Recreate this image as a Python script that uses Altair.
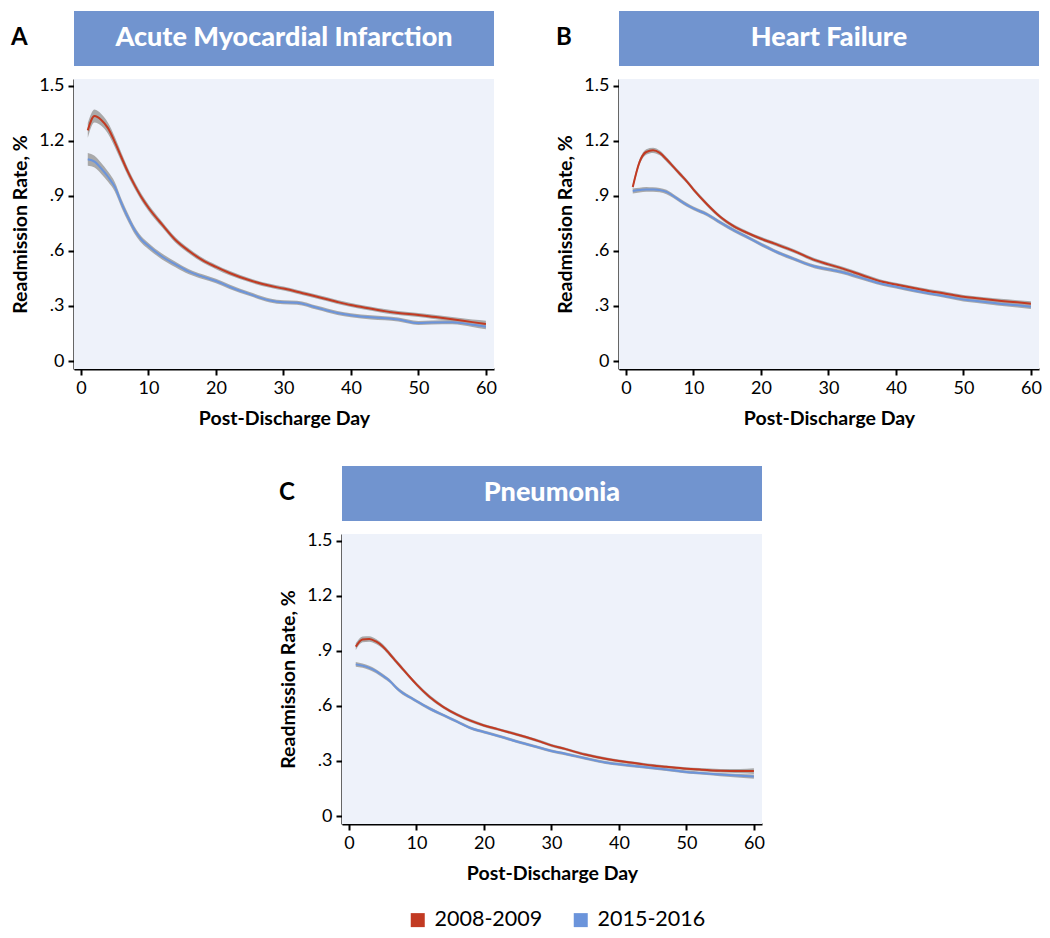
import altair as alt
import pandas as pd

days = [1, 2, 3, 4, 5, 6, 7, 8, 9, 10, 12, 14, 16, 18, 20, 22, 25, 28, 30,
        32, 35, 38, 40, 43, 45, 47, 50, 52, 55, 58, 60]

periods = ["2008-2009", "2015-2016"]

ami_0809 = [1.258, 1.336, 1.315, 1.27, 1.195, 1.11, 1.027, 0.955, 0.89, 0.836,
            0.745, 0.66, 0.60, 0.55, 0.513, 0.48, 0.44, 0.41, 0.395,
            0.378, 0.35, 0.322, 0.305, 0.285, 0.272, 0.262, 0.251, 0.242, 0.228, 0.212, 0.202]
ami_1516 = [1.10, 1.087, 1.05, 1.005, 0.95, 0.86, 0.78, 0.71, 0.66, 0.627,
            0.57, 0.527, 0.487, 0.46, 0.436, 0.405, 0.365, 0.33, 0.32,
            0.318, 0.29, 0.262, 0.25, 0.238, 0.233, 0.226, 0.207, 0.21, 0.211, 0.198, 0.187]
hf_0809 = [0.949, 1.085, 1.14, 1.149, 1.135, 1.10, 1.06, 1.02, 0.98, 0.935,
           0.855, 0.785, 0.734, 0.698, 0.667, 0.64, 0.598, 0.55, 0.527,
           0.505, 0.468, 0.432, 0.417, 0.395, 0.381, 0.37, 0.35, 0.342, 0.33, 0.32, 0.312]
hf_1516 = [0.927, 0.932, 0.936, 0.935, 0.932, 0.922, 0.90, 0.875, 0.852, 0.832,
           0.80, 0.755, 0.712, 0.675, 0.636, 0.60, 0.555, 0.515, 0.50,
           0.485, 0.452, 0.42, 0.405, 0.382, 0.368, 0.356, 0.335, 0.327, 0.314, 0.304, 0.296]
pn_0809 = [0.924, 0.963, 0.966, 0.952, 0.925, 0.885, 0.842, 0.80, 0.758, 0.718,
           0.648, 0.594, 0.553, 0.52, 0.494, 0.474, 0.443, 0.41, 0.385,
           0.366, 0.335, 0.312, 0.300, 0.285, 0.275, 0.268, 0.258, 0.253, 0.247, 0.245, 0.245]
pn_1516 = [0.827, 0.82, 0.808, 0.79, 0.765, 0.738, 0.70, 0.67, 0.648, 0.627,
           0.585, 0.55, 0.515, 0.48, 0.458, 0.438, 0.405, 0.375, 0.355,
           0.34, 0.315, 0.292, 0.282, 0.27, 0.262, 0.254, 0.24, 0.234, 0.226, 0.219, 0.215]

# 95% CI half-widths
ami_0809_ci = [0.04, 0.035, 0.032, 0.03, 0.028, 0.025, 0.022, 0.02, 0.019, 0.018,
               0.016, 0.015, 0.014, 0.013, 0.012, 0.012, 0.011, 0.011, 0.011,
               0.011, 0.011, 0.011, 0.011, 0.011, 0.011, 0.011, 0.011, 0.011, 0.012, 0.014, 0.018]
ami_1516_ci = [0.035, 0.032, 0.03, 0.028, 0.026, 0.024, 0.022, 0.02, 0.018, 0.017,
               0.016, 0.015, 0.014, 0.013, 0.012, 0.012, 0.011, 0.011, 0.011,
               0.011, 0.011, 0.011, 0.011, 0.011, 0.011, 0.011, 0.011, 0.011, 0.011, 0.012, 0.014]
hf_0809_ci = [0.016, 0.015, 0.015, 0.014, 0.013, 0.013, 0.012, 0.012, 0.011, 0.011,
              0.011, 0.01, 0.01, 0.01, 0.01, 0.01, 0.01, 0.01, 0.01,
              0.01, 0.01, 0.01, 0.01, 0.01, 0.01, 0.01, 0.01, 0.01, 0.011, 0.012, 0.014]
hf_1516_ci = [0.014, 0.013, 0.013, 0.012, 0.012, 0.012, 0.011, 0.011, 0.011, 0.01,
              0.01, 0.01, 0.01, 0.01, 0.01, 0.01, 0.01, 0.01, 0.01,
              0.01, 0.01, 0.01, 0.01, 0.01, 0.01, 0.01, 0.01, 0.01, 0.011, 0.012, 0.013]
pn_0809_ci = [0.018, 0.016, 0.015, 0.014, 0.013, 0.012, 0.011, 0.011, 0.01, 0.01,
              0.01, 0.009, 0.009, 0.009, 0.008, 0.008, 0.008, 0.008, 0.008,
              0.008, 0.008, 0.008, 0.008, 0.008, 0.008, 0.008, 0.008, 0.009, 0.01, 0.012, 0.016]
pn_1516_ci = [0.013, 0.012, 0.012, 0.011, 0.011, 0.01, 0.01, 0.01, 0.009, 0.009,
              0.009, 0.008, 0.008, 0.008, 0.008, 0.008, 0.008, 0.008, 0.008,
              0.008, 0.008, 0.008, 0.008, 0.008, 0.008, 0.008, 0.008, 0.008, 0.009, 0.01, 0.012]

y_ticks = [0, 0.3, 0.6, 0.9, 1.2, 1.5]
y_tick_labels = ["0", ".3", ".6", ".9", "1.2", "1.5"]
x_ticks = [0, 10, 20, 30, 40, 50, 60]

RED = "#c23a22"
BLUE = "#6b94db"
BANNER = "#7194cf"
BG = "#eef2fa"
FONT = "Lato"

W, H = 420, 290


def make_df(a, b, a_ci, b_ci):
    rows = []
    for p, vals, ci in [(periods[0], a, a_ci), (periods[1], b, b_ci)]:
        for d, v, c in zip(days, vals, ci):
            rows.append({"day": d, "rate": v, "lo": v - c, "hi": v + c, "period": p})
    return pd.DataFrame(rows)


label_expr = " : ".join(
    f"datum.value == {v} ? '{t}'" for v, t in zip(y_ticks[:-1], y_tick_labels[:-1])
) + f" : '{y_tick_labels[-1]}'"


def panel(letter, title, df, show_legend):
    x = alt.X("day:Q", scale=alt.Scale(domain=[-1.04, 61.2], nice=False, zero=False),
              axis=alt.Axis(values=x_ticks, title="Post-Discharge Day"))
    y_axis = alt.Axis(values=y_ticks, labelExpr=label_expr, title="Readmission Rate, %")
    y_scale = alt.Scale(domain=[-0.0436, 1.538], nice=False, zero=False)
    if show_legend:
        legend = alt.Legend(title=None, orient="none", direction="horizontal",
                            legendX=65, legendY=375,
                            symbolType="square", symbolSize=49,
                            symbolStrokeWidth=7, symbolOpacity=1,
                            labelFontSize=21.5, labelFont=FONT, labelColor="black",
                            columnPadding=20, labelOffset=6)
    else:
        legend = None
    tdf = pd.DataFrame({"title": [title], "letter": [letter]})
    bg = alt.Chart(tdf).mark_rect(color=BG).encode(
        x=alt.value(0), x2=alt.value(W), y=alt.value(0), y2=alt.value(H))
    base = alt.Chart(df)
    band = base.mark_area(color="#a4a4a4", opacity=0.95, interpolate="monotone").encode(
        x=x, y=alt.Y("lo:Q", scale=y_scale, axis=y_axis), y2="hi:Q", detail="period:N")
    line = base.mark_line(strokeWidth=2, interpolate="monotone").encode(
        x=x, y=alt.Y("rate:Q", scale=y_scale, axis=y_axis),
        color=alt.Color("period:N", scale=alt.Scale(domain=periods, range=[RED, BLUE]),
                        legend=legend))
    banner = alt.Chart(tdf).mark_rect(color=BANNER).encode(
        x=alt.value(0), x2=alt.value(W), y=alt.value(-68), y2=alt.value(-13))
    banner_text = alt.Chart(tdf).mark_text(font=FONT, fontSize=27, fontWeight=900,
                                           color="white", align="center", baseline="middle").encode(
        x=alt.value(W / 2), y=alt.value(-41), text="title:N")
    letter_text = alt.Chart(tdf).mark_text(font=FONT, fontSize=24, fontWeight="bold",
                                           color="black", align="left", baseline="middle").encode(
        x=alt.value(-63), y=alt.value(-41), text="letter:N")
    return alt.layer(bg, band, line, banner, banner_text, letter_text).properties(width=W, height=H)


pA = panel("A", "Acute Myocardial Infarction",
           make_df(ami_0809, ami_1516, ami_0809_ci, ami_1516_ci), False)
pB = panel("B", "Heart Failure", make_df(hf_0809, hf_1516, hf_0809_ci, hf_1516_ci), False)
pC = panel("C", "Pneumonia", make_df(pn_0809, pn_1516, pn_0809_ci, pn_1516_ci), True)

spacer = alt.Chart(pd.DataFrame({"v": [0]})).mark_point(opacity=0).encode(
    x=alt.value(0), y=alt.value(0)).properties(width=204, height=10)

top = alt.hconcat(pA, pB, spacing=58).resolve_scale(color="independent")
bottom = alt.hconcat(spacer, pC, spacing=0).resolve_scale(color="independent")
chart = alt.vconcat(top, bottom, spacing=38).resolve_scale(color="independent").properties(
    padding={"left": 2, "top": 3, "right": 0, "bottom": 0}
).configure_view(stroke=None).configure_axis(
    grid=False, domainColor="black", domainWidth=2.2, tickColor="black", tickWidth=2,
    tickSize=6, labelFont=FONT, labelFontSize=18, labelColor="black", labelPadding=4,
    titleFont=FONT, titleFontSize=19.5, titleFontWeight="bold", titleColor="black"
).configure_axisX(titlePadding=12, labelPadding=4).configure_axisY(titlePadding=8)

chart.save("out.html", embed_options={"renderer": "svg", "actions": False})
